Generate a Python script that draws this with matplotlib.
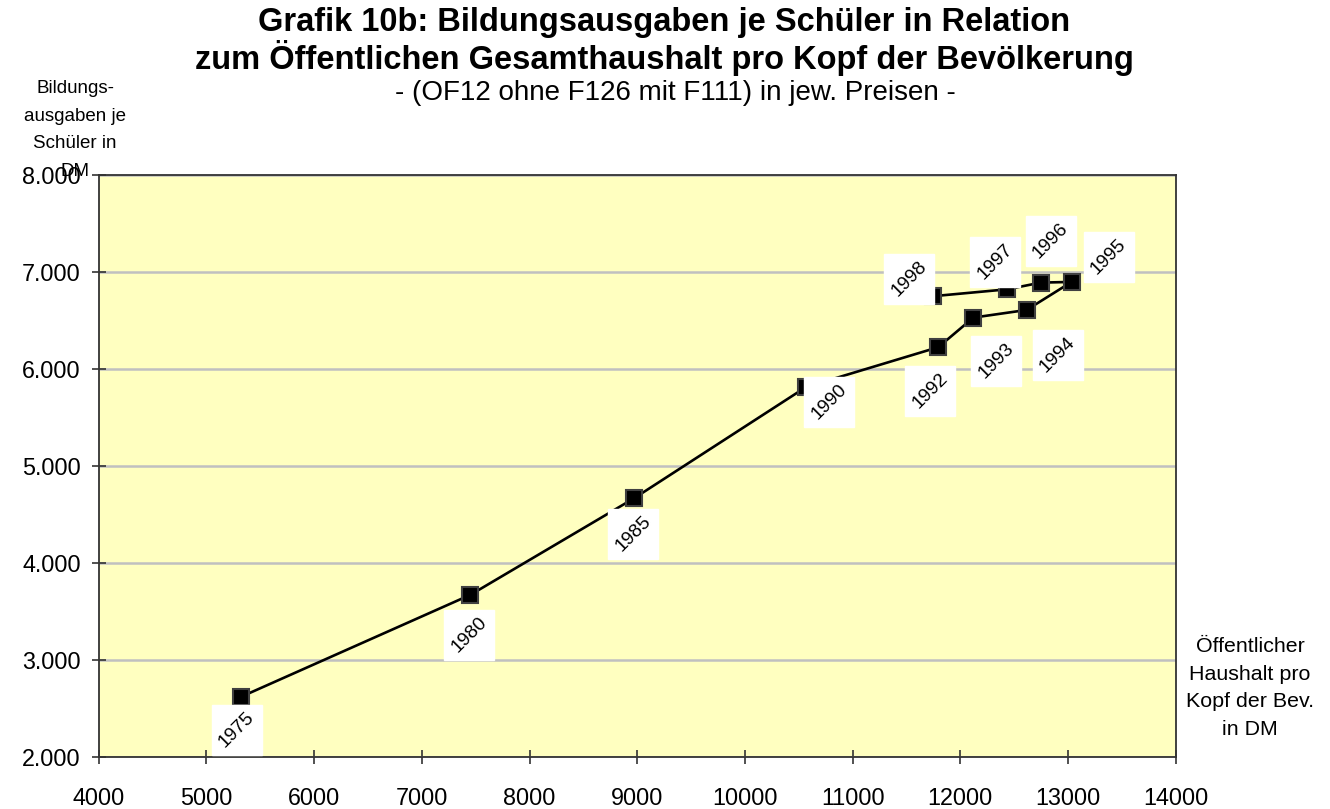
import matplotlib
matplotlib.use("Agg")
import matplotlib.pyplot as plt
from matplotlib import transforms

plt.rcParams['font.family'] = ['Liberation Sans', 'DejaVu Sans']

# Data
years = ["1975", "1980", "1985", "1990", "1992", "1993", "1994", "1995", "1996", "1997", "1998"]
haushalt = [5318, 7452, 8973, 10566, 11796, 12121, 12616, 13033, 12746, 12436, 11747]
bildung = [2616, 3670, 4667, 5812, 6224, 6529, 6608, 6897, 6890, 6821, 6750]
# label offsets in pixels (dx right, dy up)
label_dx = [-4, -1, -1, 23, -8, 23, 31, 37, 10, -12, -24]
label_dy = [-33, -40, -36, -15, -44, -43, -45, 25, 42, 27, 17]

xticks = [4000, 5000, 6000, 7000, 8000, 9000, 10000, 11000, 12000, 13000, 14000]
yticks = [2000, 3000, 4000, 5000, 6000, 7000, 8000]
yticklabels = ["2.000", "3.000", "4.000", "5.000", "6.000", "7.000", "8.000"]

W, H = 1330, 809
fig = plt.figure(figsize=(W / 100, H / 100), dpi=100)
left, right, top, bottom = 98.7, 1175.7, 175, 756.7
ax = fig.add_axes([left / W, 1 - bottom / H, (right - left) / W, (bottom - top) / H])
ax.set_facecolor('#FFFFC0')
ax.set_xlim(4000, 14000)
ax.set_ylim(2000, 8000)
ax.set_xticks(xticks)
ax.set_xticklabels([str(v) for v in xticks])
ax.set_yticks(yticks)
ax.set_yticklabels(yticklabels)
ax.yaxis.grid(True, color='#C0C0C0', linewidth=1.8)
ax.set_axisbelow(True)
for s in ax.spines.values():
    s.set_color('#333333')
    s.set_linewidth(1.3)
ax.tick_params(axis='both', direction='inout', length=10, width=1.2, color='#333333',
               labelsize=16.8, labelcolor='black')
ax.tick_params(axis='x', pad=17)
ax.tick_params(axis='y', pad=8)

ax.plot(haushalt, bildung, color='black', linewidth=1.9, marker='s', markersize=11,
        markerfacecolor='black', markeredgecolor='#404040', markeredgewidth=1.5, zorder=3,
        clip_on=False)

for yr, x, y, dx, dy in zip(years, haushalt, bildung, label_dx, label_dy):
    tr = transforms.offset_copy(ax.transData, fig=fig, x=dx, y=dy, units='dots')
    ax.plot([x], [y], marker='s', markersize=36, color='white', linestyle='none',
            transform=tr, zorder=4, clip_on=False)
    ax.annotate(yr, xy=(x, y), xytext=(dx, dy), textcoords='offset pixels',
                rotation=45, rotation_mode='anchor', ha='center', va='center',
                fontsize=13.8, zorder=5, annotation_clip=False)

fig.text(664 / W, 1 - 23 / H, "Grafik 10b: Bildungsausgaben je Schüler in Relation",
         ha='center', va='center', fontsize=23.5, fontweight='bold')
fig.text(664 / W, 1 - 58 / H, "zum Öffentlichen Gesamthaushalt pro Kopf der Bevölkerung",
         ha='center', va='center', fontsize=23.5, fontweight='bold')
fig.text(675 / W, 1 - 93 / H, "- (OF12 ohne F126 mit F111) in jew. Preisen -",
         ha='center', va='center', fontsize=20)

fig.text(75 / W, 1 - 130 / H, "Bildungs-\nausgaben je\nSchüler in\nDM",
         ha='center', va='center', fontsize=13.5, linespacing=1.8)
fig.text(1250 / W, 1 - 688 / H, "Öffentlicher\nHaushalt pro\nKopf der Bev.\nin DM",
         ha='center', va='center', fontsize=15.4, linespacing=1.57)

fig.savefig("out.png", dpi=100)
